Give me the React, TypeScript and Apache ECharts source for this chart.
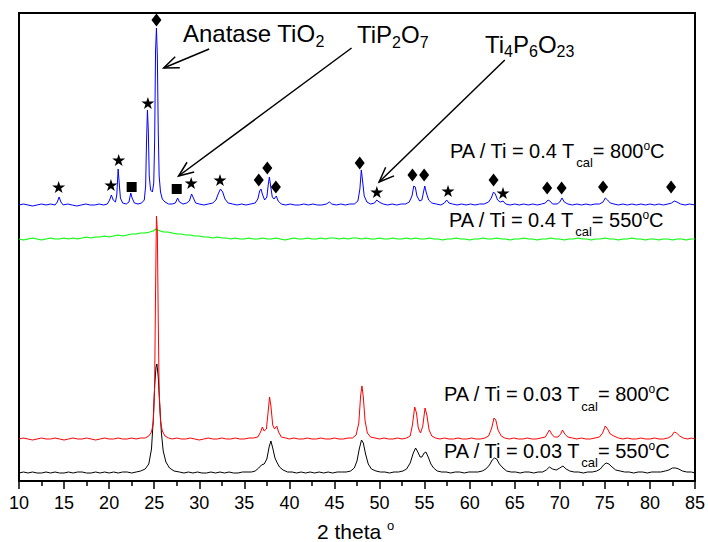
import React, { useEffect, useRef } from "react";
import * as echarts from "echarts";

// ---- data (2θ in degrees, intensity in arbitrary units incl. vertical offsets) ----
const blackData: number[][] = [
  [10,8],[10.5,9],[11,8],[11.5,9],[12,8],[12.5,8],[13,9],[13.5,8],[14,9],[14.5,8],[15,8],[15.5,9],[16,8],[16.5,9],[17,9],[17.5,8],[18,8],[18.5,9],[19,8],[19.5,9],[20,8],[20.5,9],[21,8],[21.5,9],[22,9],[22.5,8],[23,9],[23.5,10],[24,12],[24.4,17],[24.7,32],[24.9,62],[25.05,95],[25.2,114],[25.3,117],[25.45,104],[25.6,78],[25.8,48],[26,30],[26.3,19],[26.7,13],[27.2,10],[27.8,9],[28.3,8],[28.8,9],[29.3,8],[29.8,9],[30.3,8],[30.8,8],[31.3,9],[31.8,8],[32.3,9],[32.8,8],[33.3,9],[33.8,8],[34.3,8],[34.8,9],[35.3,9],[35.8,9],[36.2,10],[36.6,13],[36.9,16],[37.2,17],[37.5,22],[37.75,34],[37.95,40],[38.15,33],[38.4,23],[38.6,19],[38.9,14],[39.3,11],[39.8,9],[40.3,9],[40.8,8],[41.3,9],[41.8,8],[42.3,9],[42.8,8],[43.3,9],[43.8,8],[44.3,9],[44.8,8],[45.3,9],[45.8,9],[46.3,9],[46.8,10],[47.2,13],[47.5,20],[47.75,32],[48,41],[48.2,38],[48.45,27],[48.75,17],[49.1,12],[49.6,10],[50.1,9],[50.6,9],[51.1,8],[51.6,9],[52.1,9],[52.6,10],[53,12],[53.4,18],[53.75,28],[54,33],[54.25,29],[54.5,24],[54.7,24],[54.95,28],[55.15,29],[55.4,24],[55.7,17],[56,13],[56.4,10],[56.9,9],[57.4,9],[57.9,8],[58.4,9],[58.9,9],[59.4,8],[59.9,9],[60.4,9],[60.9,9],[61.4,10],[61.8,12],[62.2,16],[62.5,21],[62.75,23],[63,22],[63.3,17],[63.7,13],[64.1,10],[64.6,9],[65.1,9],[65.6,8],[66.1,9],[66.6,9],[67.1,8],[67.6,9],[68.1,9],[68.5,11],[68.85,14],[69.2,12],[69.6,11],[70,13],[70.35,15],[70.7,12],[71.1,10],[71.6,9],[72.1,9],[72.6,8],[73.1,9],[73.6,9],[74.1,10],[74.5,12],[74.85,16],[75.15,18],[75.45,17],[75.8,14],[76.2,11],[76.7,10],[77.2,9],[77.7,9],[78.2,8],[78.7,9],[79.2,9],[79.7,8],[80.2,9],[80.7,9],[81.2,9],[81.7,10],[82.1,11],[82.5,13],[82.85,13],[83.2,12],[83.6,10],[84.1,9],[84.6,9],[85,8]
];

const redData: number[][] = [
  [10,42],[10.5,43],[11,42],[11.5,41],[12,42],[12.5,43],[13,42],[13.5,42],[14,43],[14.5,42],[15,41],[15.5,42],[16,43],[16.5,42],[17,42],[17.5,43],[18,42],[18.5,41],[19,42],[19.5,43],[20,42],[20.5,42],[21,43],[21.5,42],[22,42],[22.5,43],[23,42],[23.5,43],[24,43],[24.4,45],[24.7,49],[24.9,58],[25.05,95],[25.15,190],[25.25,265],[25.35,250],[25.45,160],[25.55,90],[25.7,60],[25.9,50],[26.2,45],[26.6,43],[27,42],[27.5,43],[28,42],[28.5,42],[29,43],[29.5,42],[30,41],[30.5,42],[31,43],[31.5,42],[32,42],[32.5,43],[33,42],[33.5,42],[34,43],[34.5,42],[35,42],[35.5,43],[36,43],[36.5,44],[36.8,49],[37,54],[37.2,50],[37.45,52],[37.65,70],[37.8,84],[37.95,75],[38.15,56],[38.35,52],[38.6,55],[38.8,49],[39.1,44],[39.6,43],[40,42],[40.5,43],[41,42],[41.5,42],[42,43],[42.5,42],[43,42],[43.5,43],[44,42],[44.5,42],[45,43],[45.5,42],[46,42],[46.5,43],[47,43],[47.4,46],[47.7,58],[47.9,85],[48.05,95],[48.2,84],[48.4,60],[48.65,48],[49,44],[49.5,43],[50,42],[50.5,43],[51,42],[51.5,42],[52,43],[52.5,42],[53,43],[53.4,45],[53.65,56],[53.9,74],[54.1,68],[54.3,53],[54.55,48],[54.8,55],[55.05,73],[55.25,66],[55.5,51],[55.8,45],[56.2,43],[56.7,42],[57.2,43],[57.7,42],[58.2,42],[58.7,43],[59.2,42],[59.7,42],[60.2,43],[60.7,42],[61.2,42],[61.7,43],[62.1,45],[62.45,53],[62.7,63],[62.9,61],[63.15,51],[63.5,45],[63.9,43],[64.4,42],[64.9,43],[65.4,42],[65.9,42],[66.4,43],[66.9,42],[67.4,42],[67.9,43],[68.4,44],[68.65,48],[68.85,51],[69.1,47],[69.4,44],[69.8,44],[70.1,47],[70.3,51],[70.55,47],[70.9,44],[71.4,43],[71.9,42],[72.4,43],[72.9,42],[73.4,42],[73.9,43],[74.4,44],[74.75,48],[75.05,55],[75.3,52],[75.6,47],[76,45],[76.5,43],[77,42],[77.5,43],[78,42],[78.5,42],[79,43],[79.5,42],[80,42],[80.5,43],[81,42],[81.5,42],[82,43],[82.4,45],[82.7,49],[82.95,48],[83.3,45],[83.7,43],[84.2,42],[84.6,43],[85,42]
];

const greenData: number[][] = [
  [10,242],[10.5,241],[11,242],[11.5,243],[12,242],[12.5,241],[13,242],[13.5,243],[14,242],[14.5,242],[15,243],[15.5,242],[16,243],[16.5,242],[17,243],[17.5,244],[18,243],[18.5,244],[19,244],[19.5,245],[20,244],[20.5,245],[21,246],[21.5,245],[22,246],[22.5,247],[23,247],[23.5,248],[24,248],[24.5,249],[24.9,250],[25.2,252],[25.4,251],[25.7,250],[26,249],[26.5,249],[27,248],[27.5,247],[28,247],[28.5,246],[29,246],[29.5,245],[30,245],[30.5,244],[31,244],[31.5,243],[32,244],[32.5,243],[33,243],[33.5,242],[34,243],[34.5,242],[35,242],[35.5,243],[36,242],[36.5,242],[37,243],[37.5,242],[38,242],[38.5,243],[39,242],[39.5,241],[40,242],[40.5,243],[41,242],[41.5,242],[42,243],[42.5,242],[43,242],[43.5,243],[44,242],[44.5,243],[45,243],[45.5,242],[46,243],[46.5,242],[47,243],[47.5,243],[48,242],[48.5,243],[49,242],[49.5,242],[50,243],[50.5,242],[51,242],[51.5,243],[52,242],[52.5,242],[53,243],[53.5,242],[54,243],[54.5,242],[55,242],[55.5,243],[56,242],[56.5,242],[57,241],[57.5,242],[58,242],[58.5,243],[59,242],[59.5,242],[60,241],[60.5,242],[61,242],[61.5,243],[62,242],[62.5,242],[63,243],[63.5,242],[64,242],[64.5,241],[65,242],[65.5,242],[66,243],[66.5,242],[67,242],[67.5,241],[68,242],[68.5,242],[69,243],[69.5,242],[70,242],[70.5,241],[71,242],[71.5,242],[72,243],[72.5,242],[73,242],[73.5,241],[74,242],[74.5,242],[75,243],[75.5,242],[76,242],[76.5,241],[77,242],[77.5,242],[78,243],[78.5,242],[79,242],[79.5,241],[80,242],[80.5,242],[81,241],[81.5,242],[82,242],[82.5,241],[83,242],[83.5,242],[84,241],[84.5,242],[85,242]
];

const blueData: number[][] = [
  [10,276],[10.5,277],[11,276],[11.5,275],[12,276],[12.5,277],[13,276],[13.5,277],[14,276],[14.25,279],[14.45,284],[14.65,279],[14.9,276],[15.4,277],[15.9,276],[16.4,275],[16.9,276],[17.4,277],[17.9,276],[18.4,276],[18.9,277],[19.4,276],[19.8,277],[20.05,281],[20.25,286],[20.45,281],[20.7,279],[20.85,286],[21,312],[21.12,298],[21.25,283],[21.5,278],[21.9,277],[22.2,279],[22.4,288],[22.55,283],[22.8,278],[23.2,277],[23.6,278],[23.9,281],[24.05,295],[24.15,340],[24.25,371],[24.35,350],[24.45,305],[24.6,291],[24.8,289],[24.95,298],[25.05,340],[25.15,430],[25.25,453],[25.35,425],[25.45,350],[25.55,305],[25.7,289],[25.9,282],[26.2,279],[26.6,277],[27,277],[27.35,278],[27.6,283],[27.8,279],[28.2,277],[28.6,278],[28.9,280],[29.15,287],[29.35,283],[29.6,278],[30,277],[30.5,276],[31,277],[31.5,278],[31.85,281],[32.1,287],[32.35,292],[32.6,289],[32.85,282],[33.2,278],[33.7,277],[34.2,276],[34.7,277],[35.2,276],[35.7,277],[36.2,278],[36.5,282],[36.7,290],[36.85,292],[37,287],[37.25,281],[37.5,284],[37.65,296],[37.78,304],[37.92,295],[38.1,284],[38.3,282],[38.55,285],[38.75,280],[39.1,277],[39.6,276],[40.1,277],[40.6,276],[41.1,276],[41.6,277],[42.1,276],[42.6,277],[43.1,276],[43.6,276],[44.1,277],[44.45,279],[44.7,277],[45.2,276],[45.7,277],[46.2,276],[46.7,277],[47.2,277],[47.6,280],[47.82,292],[47.98,311],[48.12,300],[48.3,285],[48.6,279],[49,277],[49.45,278],[49.7,281],[49.95,279],[50.4,277],[50.9,276],[51.4,277],[51.9,276],[52.4,277],[52.9,277],[53.3,279],[53.6,285],[53.8,295],[53.97,294],[54.15,285],[54.45,280],[54.7,281],[54.88,289],[55.02,295],[55.2,288],[55.45,281],[55.8,278],[56.3,277],[56.8,276],[57.2,278],[57.45,281],[57.7,278],[58.1,277],[58.6,276],[59.1,277],[59.6,276],[60.1,277],[60.6,276],[61.1,277],[61.6,277],[62.1,279],[62.4,283],[62.65,289],[62.85,287],[63.1,281],[63.4,279],[63.7,280],[64,277],[64.5,276],[65,277],[65.5,276],[66,277],[66.5,276],[67,277],[67.5,276],[68,277],[68.4,278],[68.7,281],[68.9,280],[69.2,277],[69.7,277],[70,279],[70.25,283],[70.5,279],[70.9,277],[71.4,276],[71.9,277],[72.4,276],[72.9,277],[73.4,276],[73.9,277],[74.4,277],[74.8,279],[75.05,283],[75.3,281],[75.6,278],[76,277],[76.5,276],[77,277],[77.5,276],[78,277],[78.5,276],[79,277],[79.5,276],[80,277],[80.5,276],[81,277],[81.5,276],[82,277],[82.4,278],[82.7,280],[83,279],[83.4,277],[83.9,276],[84.4,277],[85,276]
];

// phase markers (anatase ◆, TiP2O7 ■, Ti4P6O23 ★)
const anataseMarks: number[][] = [[25.25,461],[36.6,301],[37.55,313],[38.5,294],[47.8,318],[53.65,306],[54.95,306],[62.65,301],[68.6,293],[70.2,293],[74.8,294],[82.35,294]];
const tip2o7Marks: number[][] = [[22.5,294],[27.5,292]];
const ti4p6o23Marks: number[][] = [[14.4,294],[20.2,296],[21.06,321],[24.3,378],[29.1,298],[32.3,301],[49.7,289],[57.6,290],[63.7,288]];

// arrows: [tailX, tailY, headX, headY] in data units
const arrows: number[][] = [
  [31.1, 432, 26.05, 413],
  [46.9, 433, 27.7, 305],
  [63.9, 421, 49.95, 299],
];

const FONT = "'Liberation Sans', Arial, Helvetica, sans-serif";
const STAR = "path://M50,0 L61,35 L98,35 L68,57 L79,91 L50,70 L21,91 L32,57 L2,35 L39,35 Z";

export default function App() {
  const ref = useRef<HTMLDivElement>(null);
  useEffect(() => {
    const el = ref.current!;
    const chart = echarts.init(el, null, { renderer: "svg" });
    chart.setOption({
      animation: false,
      grid: { left: 19, right: 11, top: 13, bottom: 61, show: true, borderColor: "#000", borderWidth: 2, backgroundColor: "transparent" },
      xAxis: {
        type: "value", min: 10, max: 85, interval: 5,
        axisLine: { show: true, onZero: false, lineStyle: { color: "#000", width: 2 } },
        axisTick: { show: true, inside: false, length: 8, lineStyle: { color: "#000", width: 1.5 } },
        minorTick: { show: true, splitNumber: 2, length: 5, lineStyle: { color: "#000", width: 1.5 } },
        axisLabel: { color: "#000", fontSize: 18, fontFamily: FONT, margin: 13 },
        splitLine: { show: false },
      },
      yAxis: { type: "value", min: 0, max: 468, show: false },
      series: [
        { type: "line", data: blackData, showSymbol: false, lineStyle: { color: "#000000", width: 1 }, itemStyle: { color: "#000" }, z: 2 },
        { type: "line", data: greenData, showSymbol: false, lineStyle: { color: "#00ff00", width: 1.2 }, itemStyle: { color: "#00ff00" }, z: 2 },
        { type: "line", data: redData, showSymbol: false, lineStyle: { color: "#ff0000", width: 1 }, itemStyle: { color: "#ff0000" }, z: 3 },
        { type: "line", data: blueData, showSymbol: false, lineStyle: { color: "#0000ff", width: 1 }, itemStyle: { color: "#0000ff" }, z: 3 },
        { type: "scatter", data: anataseMarks, symbol: "diamond", symbolSize: [10, 13], itemStyle: { color: "#000", opacity: 1 }, z: 5 },
        { type: "scatter", data: tip2o7Marks, symbol: "rect", symbolSize: [10, 10], itemStyle: { color: "#000", opacity: 1 }, z: 5 },
        { type: "scatter", data: ti4p6o23Marks, symbol: STAR, symbolSize: [13, 12], itemStyle: { color: "#000", opacity: 1 }, z: 5 },
      ],
    });

    const ctx = document.createElement("canvas").getContext("2d")!;
    const tw = (t: string, fs: number) => { ctx.font = `${fs}px 'Liberation Sans', Arial, sans-serif`; return ctx.measureText(t).width; };
    const graphics: any[] = [];
    const pieces = (parts: [string, number, number][], x0: number, yMid: number) => {
      let x = x0;
      for (const [t, fs, dy] of parts) {
        graphics.push({ type: "text", x, y: yMid + dy, z: 100, style: { text: t, fontSize: fs, fontFamily: FONT, fill: "#000", verticalAlign: "middle", align: "left" } });
        x += tw(t, fs);
      }
    };
    pieces([["Anatase TiO", 24, 0], ["2", 16, 8]], 183, 33.5);
    pieces([["TiP", 24, 0], ["2", 16, 8], ["O", 24, 0], ["7", 16, 8]], 357, 34);
    pieces([["Ti", 24, 0], ["4", 16, 7], ["P", 24, 0], ["6", 16, 7], ["O", 24, 0], ["23", 16, 7]], 485, 44);
    const label = (ratio: string, temp: string, x0: number, yMid: number) =>
      pieces([[`PA / Ti = ${ratio} T`, 20, 0], ["cal", 13, 12], [`= ${temp}`, 20, 0], ["o", 12, -5], ["C", 20, 0]], x0, yMid);
    label("0.4", "800", 450, 150.5);
    label("0.4", "550", 449, 219.5);
    label("0.03", "800", 444, 394);
    label("0.03", "550", 444, 450.5);
    pieces([["2 theta ", 21, 0], ["o", 13, -6]], 317, 531);

    for (const [tx, ty, hx, hy] of arrows) {
      const [x1, y1] = chart.convertToPixel({ xAxisIndex: 0, yAxisIndex: 0 }, [tx, ty]) as number[];
      const [x2, y2] = chart.convertToPixel({ xAxisIndex: 0, yAxisIndex: 0 }, [hx, hy]) as number[];
      const dx = x2 - x1, dy = y2 - y1, len = Math.hypot(dx, dy);
      const ux = dx / len, uy = dy / len, nx = -uy, ny = ux;
      const L = 15, W = 6;
      graphics.push({ type: "line", z: 100, shape: { x1, y1, x2, y2 }, style: { stroke: "#000", lineWidth: 1.5 } });
      graphics.push({ type: "polyline", z: 100, shape: { points: [[x2 - ux * L + nx * W, y2 - uy * L + ny * W], [x2, y2], [x2 - ux * L - nx * W, y2 - uy * L - ny * W]] }, style: { stroke: "#000", lineWidth: 1.5, fill: null } });
    }
    chart.setOption({ graphic: graphics });
    return () => chart.dispose();
  }, []);
  return <div ref={ref} style={{ position: "fixed", left: 0, top: 0, width: 708, height: 542, background: "#fff" }} />;
}
